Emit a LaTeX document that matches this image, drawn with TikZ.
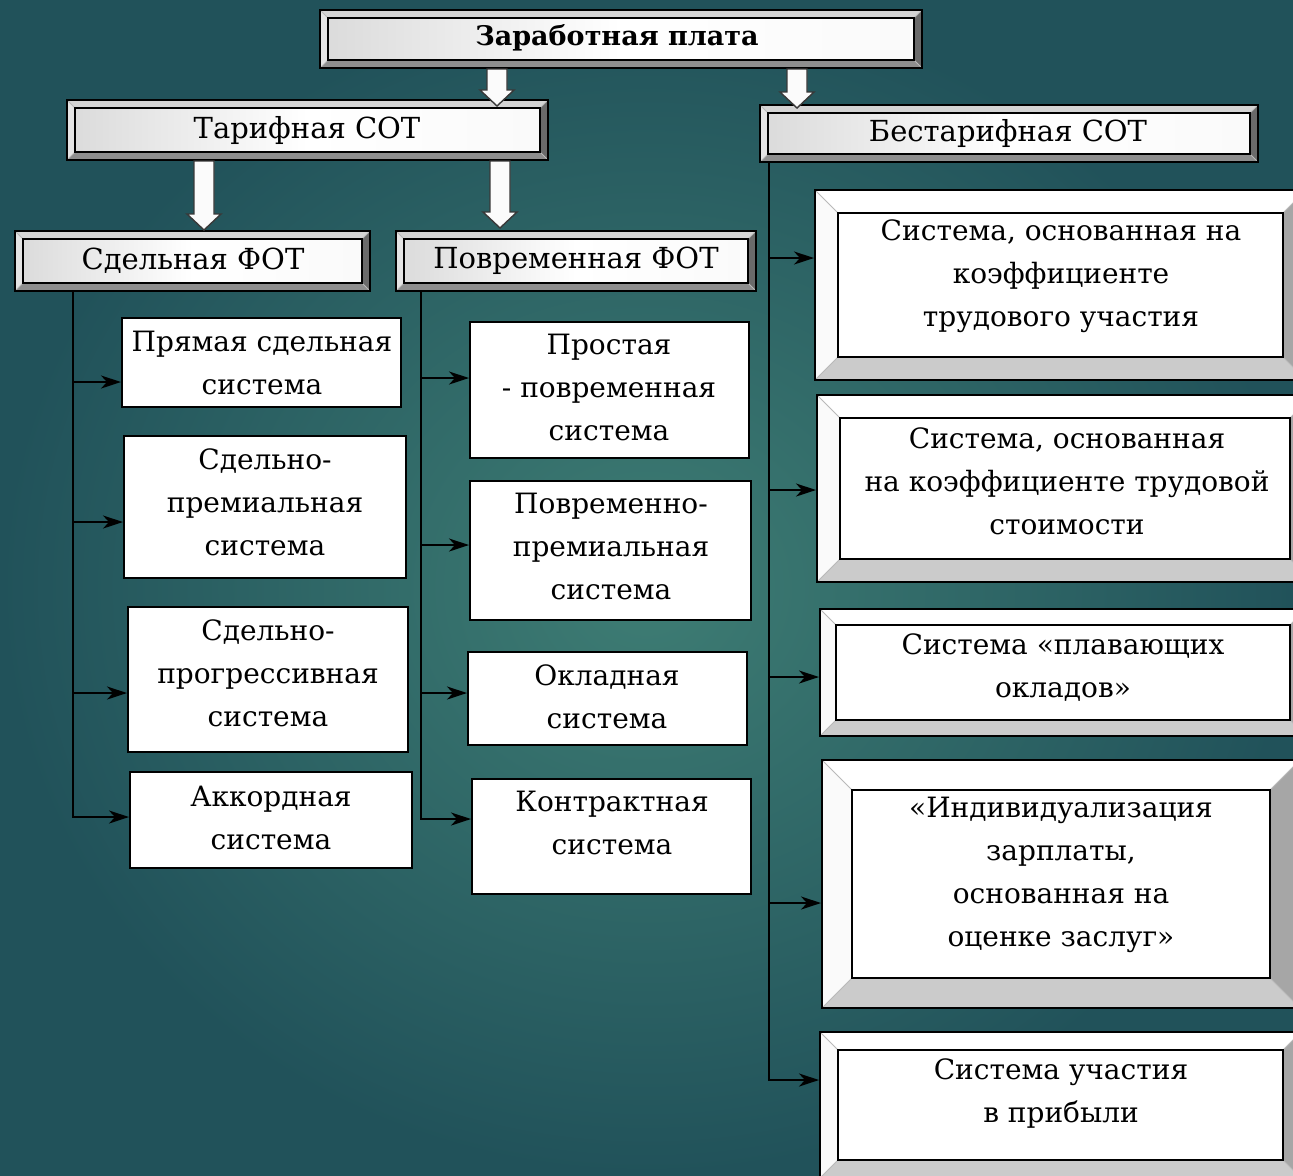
\documentclass[tikz,border=0pt]{standalone}
\usepackage{fontspec}
\setmainfont{DejaVu Serif}
\usetikzlibrary{arrows.meta,fit,calc}
\definecolor{bgin}{HTML}{3E7D74}
\definecolor{bgout}{HTML}{21525A}
\definecolor{hT}{HTML}{D4D4D4}
\definecolor{hL}{HTML}{E4E4E4}
\definecolor{hR}{HTML}{6A6A6A}
\definecolor{hB}{HTML}{8E8E8E}
\definecolor{rT}{HTML}{FFFFFF}
\definecolor{rL}{HTML}{FAFAFA}
\definecolor{rR}{HTML}{A6A6A6}
\definecolor{rB}{HTML}{CBCBCB}
\newcommand\bxfont{\fontsize{14}{21.5}\selectfont}
\newcommand\hdfont{\fontsize{14.5}{18}\selectfont}
\newcommand\ttlfont{\fontsize{13.5}{16}\selectfont\bfseries}
\tikzset{
  hI/.style={left color=gray!28, right color=white!96!gray, middle color=white, draw=black, line width=0.6pt},
  rI/.style={fill=white, draw=black, line width=0.8pt},
  wbox/.style={draw=black, line width=1pt, fill=white, inner sep=0pt},
  txt/.style={align=center, font=\bxfont, inner sep=0pt, text=black},
  hdtxt/.style={align=center, font=\hdfont, inner sep=0pt, text=black},
  ttltxt/.style={align=center, font=\ttlfont, inner sep=0pt, text=black},
  conn/.style={line width=1pt, draw=black, -{Stealth[length=10pt,width=6.5pt,inset=3pt]}},
  barrow/.style={fill=white!97!gray, draw=gray!45!black, line width=0.7pt},
}
\newcommand\bevel[7]{%
  \fill[#7B] (#2,#3) rectangle (#4,#5);
  \fill[#7T] (#2,#3) -- (#4,#3) -- (#4-#6,#3+#6) -- (#2+#6,#3+#6) -- cycle;
  \fill[#7L] (#2,#3) -- (#2+#6,#3+#6) -- (#2+#6,#5-#6) -- (#2,#5) -- cycle;
  \fill[#7R] (#4,#3) -- (#4,#5) -- (#4-#6,#5-#6) -- (#4-#6,#3+#6) -- cycle;
  \draw[gray!55, line width=0.4pt] (#2,#3) -- (#2+#6,#3+#6) (#4,#3) -- (#4-#6,#3+#6) (#2,#5) -- (#2+#6,#5-#6) (#4,#5) -- (#4-#6,#5-#6);
  \path[#7I] (#2+#6,#3+#6) rectangle (#4-#6,#5-#6);
  \path (#2,#3) coordinate (#1-nw) (#4,#5) coordinate (#1-se);
  \node[draw=black, line width=1pt, inner sep=0pt, fit=(#1-nw)(#1-se)] (#1) {};
}
\newcommand\plainbox[5]{%
  \path (#2,#3) coordinate (#1-nw) (#4,#5) coordinate (#1-se);
  \node[wbox, fit=(#1-nw)(#1-se)] (#1) {};
}
\newcommand\blockarr[2]{%
  \filldraw[barrow] let \p1=(#1), \p2=(#2) in
  (\x1-5pt,\y1) -- (\x1+5pt,\y1) -- (\x1+5pt,\y2+8pt) -- (\x1+8.5pt,\y2+8pt)
  -- (\x1,\y2) -- (\x1-8.5pt,\y2+8pt) -- (\x1-5pt,\y2+8pt) -- cycle;
}
\begin{document}
\begin{tikzpicture}[x=0.5pt,y=-0.5pt]
\useasboundingbox (0,0) rectangle (1293,1175);
\clip (0,0) rectangle (1293,1175);
\shade[inner color=bgin, outer color=bgout] (0,0) rectangle (1293,1175);

% header boxes
\bevel{zp}{320}{10}{922}{68}{8}{h}
\bevel{tar}{67}{100}{548}{160}{8}{h}
\bevel{btar}{760}{105}{1258}{162}{8}{h}
\bevel{sd}{15}{231}{370}{291}{8}{h}
\bevel{pv}{396}{231}{756}{291}{8}{h}

% right column boxes
\bevel{r1}{815}{190}{1306}{380}{23}{r}
\bevel{r2}{817}{395}{1313}{582}{23}{r}
\bevel{r3}{820}{609}{1306}{736}{16}{r}
\bevel{r4}{822}{760}{1300}{1008}{30}{r}
\bevel{r5}{820}{1032}{1301}{1178}{18}{r}

% left column
\plainbox{b1}{122}{318}{401}{407}
\plainbox{b2}{124}{436}{406}{578}
\plainbox{b3}{128}{607}{408}{752}
\plainbox{b4}{130}{772}{412}{868}
% middle column
\plainbox{m1}{470}{322}{749}{458}
\plainbox{m2}{470}{481}{751}{620}
\plainbox{m3}{468}{652}{747}{745}
\plainbox{m4}{472}{779}{751}{894}

% texts
\node[ttltxt] (t-zp) at (617,38) {Заработная плата};
\node[hdtxt] (t-tar) at (307,130) {Тарифная СОТ};
\node[hdtxt] (t-btar) at (1008,133) {Бестарифная СОТ};
\node[hdtxt] (t-sd) at (193,261) {Сдельная ФОТ};
\node[hdtxt] (t-pv) at (576,261) {Повременная ФОТ};

\node[txt] (t-b1) at (262,363) {Прямая сдельная\\система};
\node[txt] (t-b2) at (265,502) {Сдельно-\\премиальная\\система};
\node[txt] (t-b3) at (268,673) {Сдельно-\\прогрессивная\\система};
\node[txt] (t-b4) at (271,818) {Аккордная\\система};
\node[txt] (t-m1) at (609,387) {Простая\\- повременная\\система};
\node[txt] (t-m2) at (611,546) {Повременно-\\премиальная\\система};
\node[txt] (t-m3) at (607,697) {Окладная\\система};
\node[txt] (t-m4) at (612,823) {Контрактная\\система};
\node[txt] (t-r1) at (1061,276) {Система, основанная на\\коэффициенте\\трудового участия};
\node[txt] (t-r2) at (1067,481) {Система, основанная\\на коэффициенте трудовой\\стоимости};
\node[txt] (t-r3) at (1063,668) {Система «плавающих\\окладов»};
\node[txt] (t-r4) at (1061,875) {«Индивидуализация\\зарплаты,\\основанная на\\оценке заслуг»};
\node[txt] (t-r5) at (1061,1093) {Система участия\\в прибыли};

% left spine
\coordinate (L1) at (73,382);
\coordinate (L2) at (73,522);
\coordinate (L3) at (73,693);
\coordinate (L4) at (73,817);
\draw[conn] (L1 |- sd.south) -- (L4) -- (L4 -| b4.west);
\draw[conn] (L1) -- (L1 -| b1.west);
\draw[conn] (L2) -- (L2 -| b2.west);
\draw[conn] (L3) -- (L3 -| b3.west);

% middle spine
\coordinate (M1) at (421,378);
\coordinate (M2) at (421,545);
\coordinate (M3) at (421,693);
\coordinate (M4) at (421,819);
\draw[conn] (M1 |- pv.south) -- (M4) -- (M4 -| m4.west);
\draw[conn] (M1) -- (M1 -| m1.west);
\draw[conn] (M2) -- (M2 -| m2.west);
\draw[conn] (M3) -- (M3 -| m3.west);

% right spine
\coordinate (R1) at (769,258);
\coordinate (R2) at (769,490);
\coordinate (R3) at (769,677);
\coordinate (R4) at (769,903);
\coordinate (R5) at (769,1080);
\draw[conn] (R1 |- btar.south) -- (R5) -- (R5 -| r5.west);
\draw[conn] (R1) -- (R1 -| r1.west);
\draw[conn] (R2) -- (R2 -| r2.west);
\draw[conn] (R3) -- (R3 -| r3.west);
\draw[conn] (R4) -- (R4 -| r4.west);

% block arrows
\coordinate (A1) at (497,106);
\coordinate (A2) at (797,108);
\coordinate (A3) at (204,230);
\coordinate (A4) at (500,228);
\blockarr{A1 |- zp.south}{A1}
\blockarr{A2 |- zp.south}{A2}
\blockarr{A3 |- tar.south}{A3}
\blockarr{A4 |- tar.south}{A4}
\end{tikzpicture}
\end{document}
